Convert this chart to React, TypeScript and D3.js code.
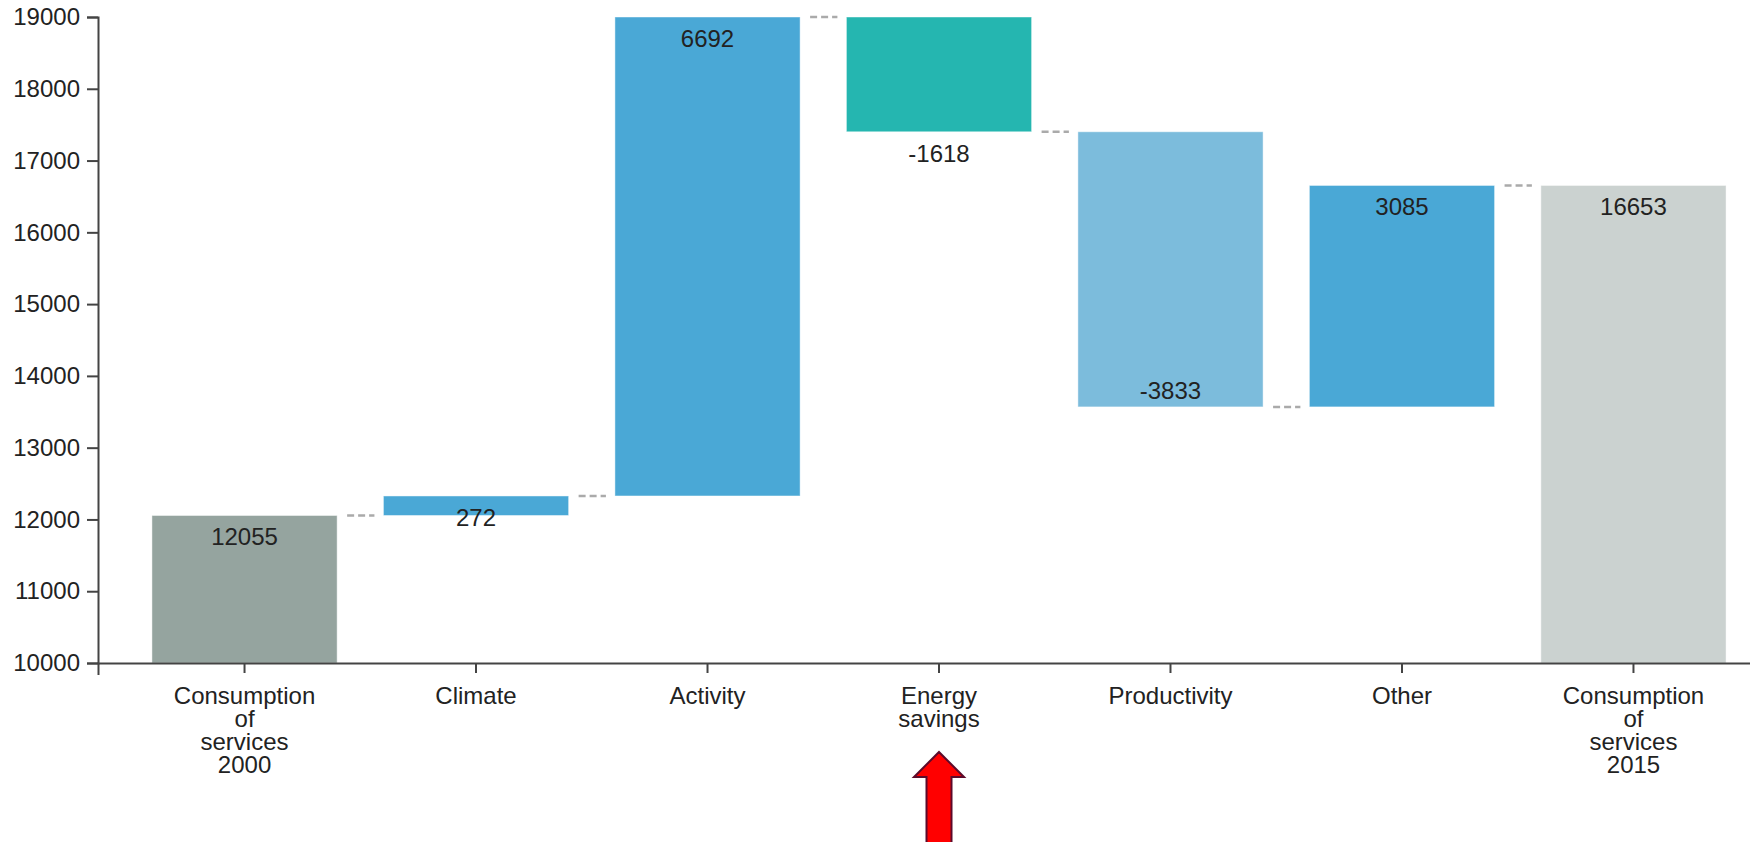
import React, { useEffect, useRef } from "react";
import * as d3 from "d3";

// waterfall: start total, changes, end total
const categories = [
  "Consumption of services 2000",
  "Climate",
  "Activity",
  "Energy savings",
  "Productivity",
  "Other",
  "Consumption of services 2015",
];
const values = [12055, 272, 6692, -1618, -3833, 3085, 16653];
const kinds = ["total", "delta", "delta", "delta", "delta", "delta", "total"];
const colors = ["#95a49f", "#4aa8d6", "#4aa8d6", "#25b6b0", "#7cbcdc", "#4aa8d6", "#cbd2d0"];
const yTicks = [10000, 11000, 12000, 13000, 14000, 15000, 16000, 17000, 18000, 19000];
const highlighted = "Energy savings";

export default function App() {
  const svgRef = useRef<SVGSVGElement>(null);

  useEffect(() => {
    if (!svgRef.current) return;
    const width = 1750;
    const height = 842;
    const left = 98;
    const top = 17;
    const bottom = 663;

    const svg = d3.select(svgRef.current);
    svg.selectAll("*").remove();

    // running totals
    let run = 0;
    const bars = categories.map((name, i) => {
      let start: number, end: number;
      if (kinds[i] === "total") {
        start = 10000;
        end = values[i];
        run = values[i];
      } else {
        start = run;
        end = run + values[i];
        run = end;
      }
      return { name, value: values[i], start, end, color: colors[i], kind: kinds[i] };
    });

    const x = d3.scaleBand<string>()
      .domain(categories)
      .range([left, 1780])
      .paddingInner(0.2)
      .paddingOuter(0.233);

    const y = d3.scaleLinear()
      .domain([10000, 19000])
      .range([bottom, top])
      .clamp(true);

    const bw = x.bandwidth();

    // bars
    svg.append("g")
      .selectAll("rect")
      .data(bars)
      .enter()
      .append("rect")
      .attr("x", d => x(d.name)!)
      .attr("width", bw)
      .attr("y", d => y(Math.max(d.start, d.end)))
      .attr("height", d => Math.abs(y(d.start) - y(d.end)))
      .attr("fill", d => d.color)
      .attr("stroke", "rgba(255,255,255,0.45)")
      .attr("stroke-width", 1);

    // dashed connectors between bars
    svg.append("g")
      .selectAll("line")
      .data(bars.slice(0, -1))
      .enter()
      .append("line")
      .attr("x1", d => x(d.name)! + bw + 10)
      .attr("x2", (d, i) => x(bars[i + 1].name)! - 9)
      .attr("y1", d => y(d.end))
      .attr("y2", d => y(d.end))
      .attr("stroke", "#aaa")
      .attr("stroke-width", 2.5)
      .attr("stroke-dasharray", "7,4");

    // value labels
    svg.append("g")
      .selectAll("text")
      .data(bars)
      .enter()
      .append("text")
      .attr("x", d => x(d.name)! + bw / 2)
      .attr("y", d => {
        const tall = Math.abs(y(d.start) - y(d.end)) > 150;
        if (d.kind === "delta" && d.value < 0 && tall) return y(d.end) - 8;
        return y(d.end) + 30;
      })
      .attr("text-anchor", "middle")
      .style("font-family", "'Liberation Sans', Arial, sans-serif")
      .style("font-size", "24px")
      .style("fill", "#222")
      .text(d => d.value);

    // y axis
    const yAxis = svg.append("g")
      .attr("transform", `translate(${left},0)`)
      .call(d3.axisLeft(y).tickValues(yTicks).tickFormat(d3.format("d")).tickSize(11).tickPadding(7));
    yAxis.selectAll("path, line").attr("stroke", "#444").attr("stroke-width", 2);
    yAxis.selectAll("text")
      .style("font-family", "'Liberation Sans', Arial, sans-serif")
      .style("font-size", "24px")
      .style("fill", "#222");

    // x axis
    const xAxis = svg.append("g")
      .attr("transform", `translate(0,${bottom})`)
      .call(d3.axisBottom(x).tickSize(10).tickSizeOuter(12));
    xAxis.selectAll("path, line").attr("stroke", "#444").attr("stroke-width", 2);
    xAxis.selectAll("text").remove();
    xAxis.selectAll<SVGGElement, string>(".tick").each(function (d) {
      const t = d3.select(this).append("text")
        .attr("text-anchor", "middle")
        .style("font-family", "'Liberation Sans', Arial, sans-serif")
        .style("font-size", "24px")
        .style("fill", "#222");
      d.split(" ").forEach((word, i) => {
        t.append("tspan").attr("x", 0).attr("y", 41 + i * 23).text(word);
      });
    });

    // red arrow pointing at the highlighted category
    const cx = x(highlighted)! + bw / 2;
    const tip = 752;
    const arrow = d3.path();
    arrow.moveTo(cx, tip);
    arrow.lineTo(cx + 25, tip + 25);
    arrow.lineTo(cx + 12.5, tip + 25);
    arrow.lineTo(cx + 12.5, height + 5);
    arrow.lineTo(cx - 12.5, height + 5);
    arrow.lineTo(cx - 12.5, tip + 25);
    arrow.lineTo(cx - 25, tip + 25);
    arrow.closePath();
    svg.append("path")
      .attr("d", arrow.toString())
      .attr("fill", "#ff0000")
      .attr("stroke", "#5c0a2a")
      .attr("stroke-width", 2);

    svg.attr("width", width).attr("height", height);
  }, []);

  return (
    <svg
      ref={svgRef}
      width={1750}
      height={842}
      style={{ position: "absolute", left: 0, top: 0, background: "#fff", overflow: "hidden" }}
    />
  );
}
